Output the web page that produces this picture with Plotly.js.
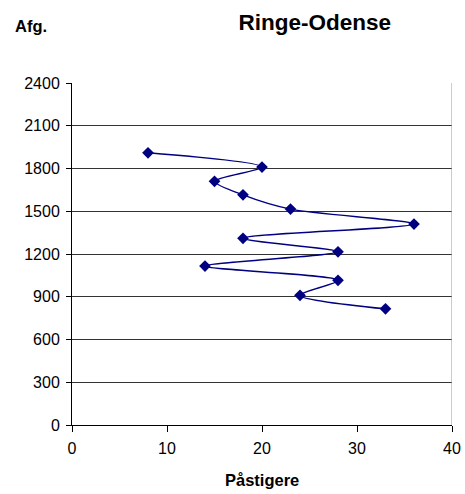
<!DOCTYPE html>
<html>
<head>
<meta charset="utf-8">
<script src="https://cdn.plot.ly/plotly-3.0.1.min.js"></script>
<style>html,body{margin:0;padding:0;background:#fff;}#chart{width:465px;height:494px;}</style>
</head>
<body>
<div id="chart"></div>
<script>
const pastigere = [8, 20, 15, 18, 23, 36, 18, 28, 14, 28, 24, 33];
const afgang = [1910, 1810, 1710, 1615, 1515, 1410, 1310, 1215, 1115, 1015, 910, 815];
const xTicks = [0, 10, 20, 30, 40];
const yTicks = [0, 300, 600, 900, 1200, 1500, 1800, 2100, 2400];

const trace = {
  x: pastigere,
  y: afgang,
  type: 'scatter',
  mode: 'lines+markers',
  line: {color: '#000080', width: 1.5, shape: 'spline', smoothing: 0.8},
  marker: {symbol: 'diamond', size: 9, color: '#000080'},
  hoverinfo: 'none'
};

const layout = {
  width: 465, height: 494,
  margin: {l: 72, r: 13, t: 83, b: 69},
  paper_bgcolor: '#fff', plot_bgcolor: '#fff',
  font: {family: 'Liberation Sans, Arial, sans-serif', size: 16, color: '#000'},
  showlegend: false,
  title: {text: '<b>Ringe-Odense</b>', font: {size: 22.5, color: '#000'}, x: 0.639, xref: 'paper', xanchor: 'center', y: 0.955, yanchor: 'middle'},
  xaxis: {
    range: [0, 40], tickvals: xTicks, ticktext: xTicks.map(String),
    showgrid: false, zeroline: false,
    showline: true, linecolor: '#000', linewidth: 1,
    ticks: 'outside', ticklen: 6, tickcolor: '#000',
    ticklabelstandoff: 3,
    tickfont: {size: 16}
  },
  yaxis: {
    range: [0, 2400], tickvals: yTicks, ticktext: yTicks.map(String),
    showgrid: true, gridcolor: '#333', gridwidth: 1, zeroline: false,
    showline: true, linecolor: '#000', linewidth: 1,
    ticks: 'outside', ticklen: 5, tickcolor: '#000',
    ticklabelstandoff: 3,
    tickfont: {size: 16}
  },
  shapes: [
    {type: 'line', xref: 'x', yref: 'paper', x0: 40, x1: 40, y0: 0, y1: 1, line: {color: '#999', width: 1}}
  ],
  annotations: [
    {text: '<b>Afg.</b>', xref: 'paper', yref: 'paper', x: -0.155, y: 1.167, xanchor: 'left', yanchor: 'middle', showarrow: false, font: {size: 16.5, color: '#000'}},
    {text: '<b>Påstigere</b>', xref: 'paper', yref: 'paper', x: 0.5, y: -0.161, xanchor: 'center', yanchor: 'middle', showarrow: false, font: {size: 16.5, color: '#000'}}
  ]
};

Plotly.newPlot('chart', [trace], layout, {displayModeBar: false, staticPlot: true});
</script>
</body>
</html>
